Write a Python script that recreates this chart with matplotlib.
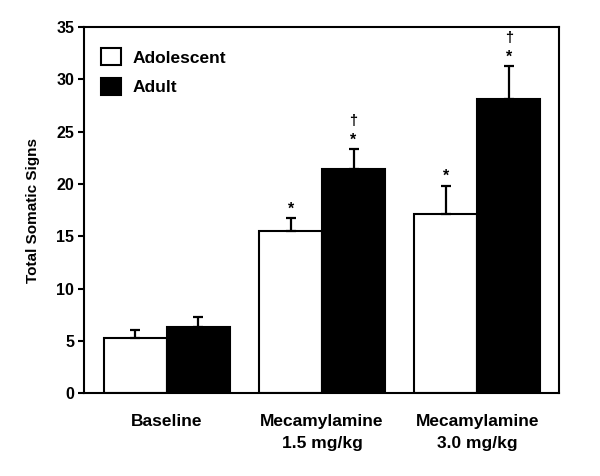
import matplotlib
matplotlib.use("Agg")
import matplotlib.pyplot as plt
import numpy as np
from matplotlib.patches import Patch

categories = ["Baseline", "Mecamylamine\n1.5 mg/kg", "Mecamylamine\n3.0 mg/kg"]
adolescent = [5.3, 15.5, 17.1]
adolescent_err = [0.75, 1.25, 2.75]
adult = [6.3, 21.4, 28.1]
adult_err = [1.0, 1.95, 3.2]
adolescent_marks = ["", "*", "*"]
adult_marks = ["", "*\u2020", "*\u2020"]
yticks = [0, 5, 10, 15, 20, 25, 30, 35]

plt.rcParams['font.family'] = ['Liberation Sans', 'DejaVu Sans']
plt.rcParams['font.weight'] = 'bold'

fig = plt.figure(figsize=(6.0, 4.76), dpi=100)
ax = fig.add_axes([0.14, 0.174, 0.792, 0.769])

x = np.arange(len(categories))
w = 0.406
ekw = dict(elinewidth=1.6, capthick=1.6, ecolor='black')
ax.bar(x - w/2, adolescent, w, color='white', edgecolor='black', linewidth=1.5,
       yerr=[np.zeros(len(adolescent)), adolescent_err], capsize=3.3, error_kw=ekw,
       label='Adolescent', zorder=2)
ax.bar(x + w/2, adult, w, color='black', edgecolor='black', linewidth=1.5,
       yerr=[np.zeros(len(adult)), adult_err], capsize=3.3, error_kw=ekw,
       label='Adult', zorder=2)

def marks(xs, tops, mk):
    for xi, t, m in zip(xs, tops, mk):
        if '*' in m:
            ax.annotate('*', (xi, t), xytext=(0, 1), textcoords='offset points',
                        ha='center', va='bottom', fontsize=11.5, fontweight='bold')
        if '\u2020' in m:
            ax.annotate('\u2020', (xi, t), xytext=(0, 15), textcoords='offset points',
                        ha='center', va='bottom', fontsize=10.5, fontweight='bold')

marks(x - w/2, np.array(adolescent) + np.array(adolescent_err), adolescent_marks)
marks(x + w/2, np.array(adult) + np.array(adult_err), adult_marks)

ax.set_xlim(-0.535, 2.529)
ax.set_ylim(0, 35)
ax.set_yticks(yticks)
ax.set_yticklabels([str(t) for t in yticks], fontsize=11.5, fontweight='bold')
ax.set_xticks(x)
ax.set_xticklabels(categories, fontsize=12.5, fontweight='bold', linespacing=1.55)
ax.tick_params(axis='x', length=0, pad=15)
ax.tick_params(axis='y', length=4, width=1.5, direction='out', pad=3)
for s in ax.spines.values():
    s.set_linewidth(1.5)
ax.set_ylabel('Total Somatic Signs', fontsize=11, fontweight='bold', labelpad=12)

handles = [Patch(facecolor='white', edgecolor='black', linewidth=1.5),
           Patch(facecolor='black', edgecolor='black', linewidth=1.5)]
ax.legend(handles, ['Adolescent', 'Adult'], loc='upper left', frameon=False,
          prop={'size': 12.5, 'weight': 'bold'}, handlelength=1.15, handleheight=1.15,
          handletextpad=0.65, labelspacing=0.7, bbox_to_anchor=(0.0, 0.99),
          borderaxespad=0.6)

fig.savefig('out.png', dpi=100)
